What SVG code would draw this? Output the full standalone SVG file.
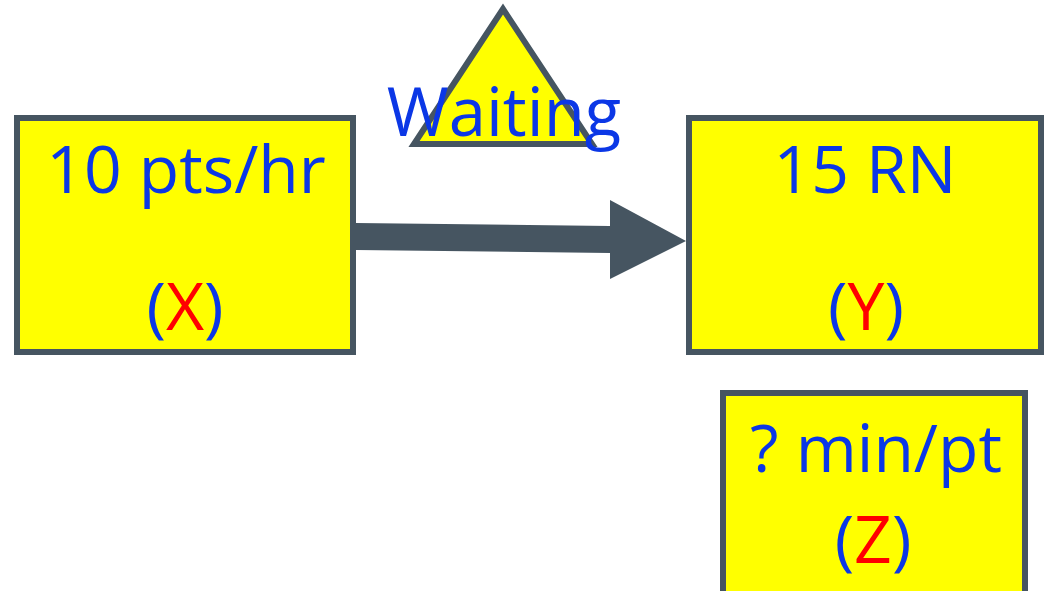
<svg xmlns="http://www.w3.org/2000/svg" width="1048" height="591" viewBox="0 0 1048 591">
  <style>
    .box { fill: #ffff00; stroke: #465561; stroke-width: 6; }
    .lbl { font-family: "Open Sans", "Liberation Sans", sans-serif; fill: #0b37e6; text-anchor: middle; font-size: 66px; }
    .var { fill: #ff0000; }
  </style>
  <rect width="1048" height="591" fill="#ffffff"/>

  <!-- arrival rate -->
  <g id="node-arrivals">
    <rect class="box" x="17" y="118" width="336" height="234"/>
    <text class="lbl" x="186" y="193">10 pts/hr</text>
    <text class="lbl" x="185" y="330">(<tspan class="var">X</tspan>)</text>
  </g>

  <!-- queue -->
  <g id="node-waiting">
    <polygon class="box" points="503,9 414,144 592,144"/>
    <text class="lbl" x="504" y="136" style="font-size:67px">Waiting</text>
  </g>

  <!-- servers -->
  <g id="node-staff">
    <rect class="box" x="689" y="118" width="352" height="234"/>
    <text class="lbl" x="865" y="193">15 RN</text>
    <text class="lbl" x="866" y="330">(<tspan class="var">Y</tspan>)</text>
  </g>

  <!-- service time -->
  <g id="node-service">
    <rect class="box" x="723" y="393" width="302" height="250"/>
    <text class="lbl" x="876" y="472">? min/pt</text>
    <text class="lbl" x="873" y="563">(<tspan class="var">Z</tspan>)</text>
  </g>

  <g id="connectors">
    <polygon fill="#465561" points="356,223 610,226 610,200 686,241 610,279 610,253 356,250"/>
  </g>
</svg>
